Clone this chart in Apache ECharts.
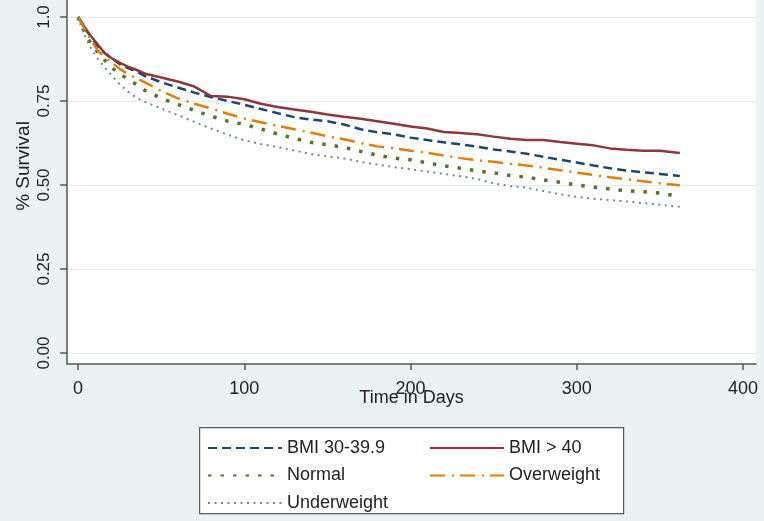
<!DOCTYPE html>
<html>
<head>
<meta charset="utf-8">
<script src="https://cdn.jsdelivr.net/npm/echarts@6/dist/echarts.min.js"></script>
<style>
  html, body { margin: 0; padding: 0; background: #eaf2f3; }
  #chart { width: 764px; height: 521px; }
</style>
</head>
<body>
<div id="chart"></div>
<script>
// days at which the survival curves were read
const days = [0, 2, 5, 8, 12, 16, 20, 25, 30, 35, 40, 50, 60, 70, 80, 90, 100, 110, 120, 130, 140, 150,
  160, 170, 180, 190, 200, 210, 220, 230, 240, 250, 260, 270, 280, 290, 300, 310, 320, 330, 340, 350, 362]

const bmi30 = [1.0, 0.985, 0.96, 0.94, 0.912, 0.893, 0.878, 0.86, 0.848, 0.838, 0.825, 0.806, 0.79, 0.775,
  0.762, 0.75, 0.739, 0.726, 0.714, 0.702, 0.695, 0.69, 0.68, 0.666, 0.657, 0.651, 0.641, 0.634, 0.627,
  0.621, 0.614, 0.606, 0.6, 0.593, 0.584, 0.575, 0.567, 0.558, 0.55, 0.543, 0.538, 0.533, 0.527]
const bmi40 = [1.0, 0.985, 0.962, 0.942, 0.917, 0.893, 0.878, 0.864, 0.852, 0.843, 0.832, 0.82, 0.808, 0.793,
  0.765, 0.763, 0.755, 0.742, 0.732, 0.725, 0.718, 0.71, 0.703, 0.697, 0.69, 0.682, 0.674, 0.668, 0.658,
  0.655, 0.651, 0.644, 0.638, 0.634, 0.634, 0.628, 0.623, 0.618, 0.609, 0.605, 0.602, 0.602, 0.595]
const normal = [1.0, 0.975, 0.945, 0.92, 0.895, 0.872, 0.85, 0.832, 0.815, 0.8, 0.782, 0.758, 0.74, 0.722,
  0.705, 0.69, 0.68, 0.667, 0.652, 0.639, 0.627, 0.62, 0.612, 0.6, 0.589, 0.58, 0.575, 0.566, 0.557,
  0.55, 0.542, 0.536, 0.528, 0.523, 0.515, 0.508, 0.5, 0.494, 0.488, 0.483, 0.48, 0.476, 0.466]
const overweight = [1.0, 0.982, 0.955, 0.93, 0.9, 0.88, 0.866, 0.846, 0.83, 0.818, 0.806, 0.78, 0.758, 0.742,
  0.728, 0.712, 0.698, 0.687, 0.676, 0.666, 0.656, 0.645, 0.636, 0.625, 0.615, 0.609, 0.602, 0.596, 0.588,
  0.58, 0.574, 0.569, 0.563, 0.558, 0.551, 0.544, 0.537, 0.53, 0.523, 0.517, 0.511, 0.505, 0.499]
const underweight = [1.0, 0.97, 0.935, 0.905, 0.875, 0.85, 0.828, 0.8, 0.778, 0.76, 0.748, 0.728, 0.708, 0.688,
  0.668, 0.65, 0.633, 0.622, 0.613, 0.603, 0.592, 0.585, 0.579, 0.569, 0.561, 0.553, 0.547, 0.54, 0.533,
  0.526, 0.518, 0.505, 0.497, 0.492, 0.482, 0.472, 0.465, 0.459, 0.455, 0.451, 0.446, 0.441, 0.435]

const xTicks = [0, 100, 200, 300, 400]
const yTicks = [0, 0.25, 0.5, 0.75, 1]
const yTickLabels = ['0.00', '0.25', '0.50', '0.75', '1.0']

const pairs = (ys) => days.map((d, i) => [d, ys[i]])

const chart = echarts.init(document.getElementById('chart'))

const fontFamily = 'Liberation Sans, Arial, sans-serif'

const lineSeries = (name, ys, color, width, type) => ({
  name,
  type: 'line',
  data: pairs(ys),
  symbol: 'none',
  lineStyle: { color, width, type, cap: 'butt' },
  itemStyle: { color },
  silent: true,
  animation: false
})

const legendBase = {
  orient: 'vertical',
  top: 439,
  padding: 0,
  itemWidth: 74,
  itemHeight: 14,
  itemGap: 9.5,
  // hide the circle ECharts puts on line legend icons
  itemStyle: { color: 'transparent', borderWidth: 0, opacity: 0 },
  textStyle: { fontSize: 18, color: '#222', fontFamily }
}

chart.setOption({
  backgroundColor: '#eaf2f3',
  animation: false,
  grid: {
    left: 67,
    right: 8,
    top: 0,
    bottom: 157,
    show: true,
    backgroundColor: '#ffffff',
    borderWidth: 0,
    containLabel: false,
    outerBoundsMode: 'none'
  },
  legend: [
    Object.assign({}, legendBase, { data: ['BMI 30-39.9', 'Normal', 'Underweight'], left: 207 }),
    Object.assign({}, legendBase, { data: ['BMI > 40', 'Overweight'], left: 429 })
  ],
  graphic: [
    {
      type: 'rect',
      left: 199,
      top: 427,
      z: -1,
      shape: { width: 424, height: 86 },
      style: { fill: '#ffffff', stroke: '#5a5a5a', lineWidth: 1.2 }
    }
  ],
  xAxis: {
    type: 'value',
    min: -6.61,
    max: 407.8,
    name: 'Time in Days',
    nameLocation: 'middle',
    nameGap: 25,
    nameMoveOverlap: false,
    nameTextStyle: { fontSize: 18, color: '#222', fontFamily },
    axisLine: { show: true, onZero: false, lineStyle: { color: '#555', width: 1.5 } },
    axisTick: { show: true, length: 6, customValues: xTicks, lineStyle: { color: '#555', width: 1.5 } },
    axisLabel: { customValues: xTicks, margin: 16, fontSize: 18, color: '#222', fontFamily },
    splitLine: { show: false }
  },
  yAxis: {
    type: 'value',
    min: -0.0327,
    max: 1.0506,
    name: '% Survival',
    nameLocation: 'middle',
    nameGap: 34,
    nameRotate: 90,
    nameMoveOverlap: false,
    nameTextStyle: { fontSize: 19, color: '#222', fontFamily, padding: [0, 0, 0, 32] },
    axisLine: { show: true, onZero: false, lineStyle: { color: '#555', width: 1.5 } },
    axisTick: { show: true, length: 7, customValues: yTicks, lineStyle: { color: '#555', width: 1.5 } },
    axisLabel: {
      customValues: yTicks,
      rotate: 90,
      margin: 14,
      fontSize: 17,
      color: '#222',
      fontFamily,
      formatter: (v) => yTickLabels[yTicks.indexOf(v)] ?? ''
    },
    splitLine: { show: true, lineStyle: { color: '#e4ebed', width: 1.2 } }
  },
  series: [
    lineSeries('BMI 30-39.9', bmi30, '#1a476f', 2.5, [9, 5]),
    lineSeries('BMI > 40', bmi40, '#90353b', 2.5, 'solid'),
    lineSeries('Normal', normal, '#55752f', 3.5, [3.5, 9]),
    lineSeries('Overweight', overweight, '#e37e00', 2.5, [15, 7, 2, 6]),
    lineSeries('Underweight', underweight, '#6e8e84', 2, [2, 4.5])
  ]
})

window.addEventListener('resize', () => chart.resize())
</script>
</body>
</html>
